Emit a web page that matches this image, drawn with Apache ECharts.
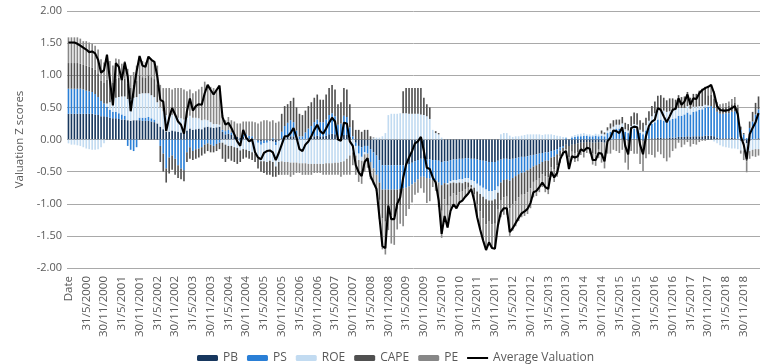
<!DOCTYPE html>
<html>
<head>
<meta charset="utf-8">
<script src="https://cdn.jsdelivr.net/npm/echarts@6/dist/echarts.min.js"></script>
<style>html,body{margin:0;padding:0;background:#fff}#c{width:780px;height:364px}</style>
</head>
<body>
<div id="c"></div>
<script>
// Monthly values, index 0 = Nov 1999 (labelled "Date") ... index 233 = Apr 2019
const PB = [
0.40,0.40,0.40,0.40,0.40,0.40,0.40,0.40,0.40,0.39,0.38,0.36,
0.36,0.35,0.34,0.33,0.33,0.32,0.31,0.31,0.30,0.29,0.30,0.30,
0.30,0.29,0.29,0.29,0.28,0.27,0.25,0.20,0.16,0.12,0.12,0.14,
0.13,0.12,0.11,0.10,0.14,0.17,0.15,0.16,0.17,0.16,0.19,0.20,
0.19,0.18,0.19,0.20,0.12,0.08,0.09,0.07,0.05,0.04,0.03,0.04,
0.03,0.02,0.02,0.01,-0.02,-0.03,-0.02,-0.02,-0.02,-0.03,-0.04,-0.02,
0.02,0.03,0.04,0.05,0.05,0.02,0.00,0.00,0.01,0.02,0.03,0.05,
0.06,0.05,0.05,0.06,0.08,0.09,0.08,0.05,0.05,0.07,0.07,0.04,
0.00,-0.05,-0.10,-0.12,-0.10,-0.10,-0.15,-0.20,-0.25,-0.32,-0.40,-0.40,
-0.40,-0.40,-0.40,-0.40,-0.40,-0.40,-0.39,-0.38,-0.36,-0.34,-0.32,-0.30,
-0.30,-0.31,-0.31,-0.32,-0.32,-0.33,-0.35,-0.34,-0.34,-0.32,-0.31,-0.31,
-0.30,-0.30,-0.29,-0.29,-0.30,-0.30,-0.31,-0.32,-0.33,-0.34,-0.35,-0.35,
-0.35,-0.33,-0.31,-0.30,-0.30,-0.31,-0.30,-0.29,-0.28,-0.27,-0.27,-0.26,
-0.25,-0.24,-0.23,-0.22,-0.21,-0.20,-0.20,-0.18,-0.17,-0.15,-0.12,-0.10,
-0.08,-0.10,-0.08,-0.07,-0.06,-0.05,-0.05,-0.04,-0.04,-0.05,-0.05,-0.04,
-0.04,-0.05,-0.02,-0.01,0.00,0.01,0.01,0.02,-0.01,-0.02,0.01,0.01,
0.01,-0.01,-0.02,0.00,0.01,0.02,0.02,0.03,0.03,0.02,0.02,0.03,
0.03,0.03,0.04,0.04,0.04,0.05,0.04,0.05,0.05,0.05,0.05,0.06,
0.06,0.06,0.05,0.03,0.02,0.02,0.02,0.02,0.03,0.02,0.01,-0.02,
-0.02,-0.06,-0.02,0.00,0.01,0.02
];
const PS = [
0.39,0.39,0.39,0.39,0.39,0.38,0.36,0.35,0.34,0.32,0.28,0.24,
0.20,0.16,0.12,0.10,0.10,0.09,0.08,0.06,-0.10,-0.16,-0.18,-0.12,
0.04,0.05,0.05,0.06,0.05,0.04,0.00,-0.10,-0.22,-0.45,-0.28,-0.25,
-0.30,-0.40,-0.45,-0.48,-0.20,-0.12,-0.18,-0.15,-0.14,-0.12,-0.08,-0.06,
-0.08,-0.10,-0.07,-0.05,0.03,0.05,0.06,0.04,0.02,0.00,-0.03,0.03,
0.05,0.04,0.03,0.00,-0.03,-0.05,-0.04,-0.03,0.00,0.02,-0.05,0.00,
0.10,0.18,0.22,0.25,0.22,0.12,0.05,0.05,0.10,0.15,0.18,0.22,
0.25,0.22,0.22,0.25,0.30,0.32,0.28,0.18,0.20,0.30,0.28,0.15,
0.05,-0.05,-0.12,-0.15,-0.10,-0.12,-0.20,-0.25,-0.30,-0.35,-0.38,-0.38,
-0.38,-0.38,-0.38,-0.38,-0.37,-0.36,-0.36,-0.35,-0.34,-0.33,-0.30,-0.28,
-0.28,-0.29,-0.30,-0.31,-0.32,-0.34,-0.36,-0.34,-0.34,-0.33,-0.32,-0.32,
-0.32,-0.32,-0.31,-0.31,-0.33,-0.35,-0.38,-0.40,-0.42,-0.44,-0.45,-0.45,
-0.44,-0.40,-0.36,-0.33,-0.32,-0.33,-0.30,-0.28,-0.26,-0.25,-0.24,-0.22,
-0.20,-0.18,-0.17,-0.16,-0.14,-0.13,-0.13,-0.10,-0.10,-0.08,-0.05,-0.03,
0.02,0.00,0.03,0.04,0.05,0.05,0.06,0.06,0.05,0.05,0.06,0.05,
0.06,0.05,0.10,0.12,0.15,0.16,0.16,0.18,0.12,0.10,0.14,0.16,
0.15,0.10,0.08,0.14,0.18,0.22,0.25,0.28,0.28,0.27,0.26,0.27,
0.29,0.30,0.33,0.33,0.35,0.37,0.35,0.38,0.39,0.41,0.42,0.44,
0.45,0.46,0.44,0.40,0.38,0.38,0.39,0.39,0.40,0.42,0.38,0.15,
0.08,0.02,0.18,0.28,0.38,0.45
];
const ROE = [
-0.06,-0.08,-0.08,-0.09,-0.10,-0.12,-0.14,-0.15,-0.16,-0.16,-0.15,-0.12,
-0.06,0.05,0.12,0.18,0.22,0.25,0.28,0.30,0.33,0.34,0.35,0.36,
0.37,0.38,0.38,0.37,0.36,0.35,0.33,0.30,0.28,0.26,0.25,0.24,
0.23,0.22,0.22,0.21,0.20,0.20,0.19,0.18,0.16,0.14,0.12,0.10,
0.08,0.06,0.05,0.03,-0.05,-0.08,-0.10,-0.10,-0.12,-0.13,-0.14,-0.15,
-0.16,-0.18,-0.20,-0.22,-0.24,-0.26,-0.28,-0.30,-0.31,-0.32,-0.33,-0.33,
-0.34,-0.35,-0.35,-0.36,-0.36,-0.36,-0.37,-0.37,-0.37,-0.38,-0.38,-0.38,
-0.38,-0.38,-0.38,-0.37,-0.37,-0.37,-0.36,-0.36,-0.35,-0.34,-0.30,-0.25,
-0.20,-0.15,-0.10,-0.06,-0.03,0.00,0.00,0.02,0.03,0.03,0.05,0.10,
0.38,0.40,0.40,0.40,0.41,0.41,0.41,0.40,0.40,0.40,0.40,0.39,
0.38,0.36,0.32,0.15,0.10,0.08,0.03,0.00,-0.02,-0.03,-0.04,-0.05,
-0.05,-0.06,-0.06,-0.07,-0.08,-0.10,-0.12,-0.13,-0.14,-0.15,-0.15,-0.15,
-0.14,-0.10,0.08,0.10,0.10,0.06,0.04,0.05,0.05,0.06,0.07,0.08,
0.08,0.08,0.08,0.08,0.07,0.08,0.08,0.08,0.07,0.06,0.05,0.04,
0.02,0.00,0.02,0.03,0.03,0.04,0.04,0.02,0.03,0.02,0.03,0.03,
0.03,0.03,0.04,0.05,0.05,0.06,0.06,0.05,0.04,0.04,0.06,0.07,
0.07,0.05,0.04,0.08,0.10,0.12,0.14,0.15,0.16,0.16,0.15,0.14,
0.14,0.13,0.12,0.12,0.10,0.10,0.09,0.08,0.07,0.06,0.05,0.04,
0.02,0.00,-0.03,-0.06,-0.09,-0.11,-0.12,-0.13,-0.14,-0.14,-0.15,-0.15,
-0.15,-0.16,-0.16,-0.16,-0.15,-0.15
];
const CAPE = [
0.40,0.40,0.40,0.40,0.39,0.38,0.39,0.38,0.38,0.38,0.37,0.32,
0.32,0.37,0.32,0.27,0.30,0.30,0.25,0.28,0.24,0.18,0.20,0.25,
0.29,0.25,0.24,0.28,0.28,0.28,0.28,-0.25,-0.28,-0.22,-0.25,-0.22,
-0.25,-0.20,-0.17,-0.17,-0.15,-0.18,-0.14,-0.15,-0.14,-0.13,-0.14,-0.12,
-0.12,-0.10,-0.11,-0.10,-0.25,-0.27,-0.20,-0.23,-0.23,-0.25,-0.18,-0.15,
-0.12,-0.12,-0.12,-0.13,-0.16,-0.16,-0.18,-0.20,-0.22,-0.23,-0.16,-0.20,
0.28,0.31,0.29,0.30,0.38,0.36,0.35,0.33,0.34,0.35,0.37,0.38,
0.39,0.35,0.35,0.39,0.42,0.44,0.42,0.32,0.33,0.43,0.43,0.36,
0.25,0.15,0.15,0.12,0.15,0.15,0.05,0.01,0.00,-0.27,-0.45,-0.50,
-0.30,-0.40,-0.42,-0.30,-0.25,0.34,0.39,0.40,0.40,0.40,0.40,0.41,
0.27,0.19,0.18,0.00,0.03,0.02,-0.40,-0.25,-0.33,-0.21,-0.17,-0.19,
-0.15,-0.13,-0.11,-0.08,-0.03,-0.10,-0.20,-0.27,-0.34,-0.39,-0.32,-0.37,
-0.38,-0.25,-0.27,-0.27,-0.27,-0.43,-0.41,-0.39,-0.36,-0.34,-0.34,-0.34,
-0.31,-0.24,-0.24,-0.22,-0.19,-0.24,-0.26,-0.15,-0.19,-0.17,-0.09,-0.06,
-0.07,-0.18,-0.11,-0.14,-0.14,-0.09,-0.11,-0.08,-0.09,-0.17,-0.18,-0.12,
0.05,0.03,0.05,0.08,0.10,0.08,0.08,0.10,0.10,0.10,0.15,0.18,
0.18,0.15,0.14,0.12,0.15,0.16,0.18,0.22,0.22,0.20,0.18,0.20,
0.18,0.16,0.20,0.17,0.18,0.22,0.17,0.20,0.20,0.24,0.27,0.28,
0.16,0.18,0.15,0.10,0.09,0.10,0.10,0.11,0.12,0.13,0.10,0.05,
0.02,-0.12,0.10,0.15,0.18,0.20
];
const PE = [
0.40,0.40,0.40,0.40,0.39,0.37,0.38,0.38,0.37,0.37,0.37,0.33,
0.32,0.37,0.32,0.27,0.31,0.29,0.26,0.27,0.23,0.19,0.20,0.24,
0.28,0.25,0.24,0.27,0.28,0.28,0.29,0.35,0.36,0.42,0.43,0.40,
0.44,0.46,0.47,0.47,0.41,0.41,0.38,0.41,0.45,0.52,0.59,0.55,
0.55,0.56,0.54,0.57,0.23,0.17,0.20,0.19,0.21,0.21,0.22,0.21,
0.20,0.22,0.23,0.26,0.25,0.28,0.30,0.30,0.28,0.28,0.26,0.28,
-0.21,-0.20,-0.20,-0.22,-0.19,-0.16,-0.15,-0.18,-0.18,-0.17,-0.17,-0.14,
-0.14,-0.14,-0.17,-0.18,-0.18,-0.18,-0.19,-0.19,-0.23,-0.21,-0.25,-0.30,
-0.20,-0.30,-0.34,-0.36,-0.27,-0.22,-0.27,-0.25,-0.25,-0.30,-0.48,-0.51,
-0.33,-0.44,-0.44,-0.32,-0.29,-0.59,-0.44,-0.35,-0.28,-0.19,-0.21,-0.18,
-0.25,-0.39,-0.35,-0.11,-0.16,-0.38,-0.42,-0.26,-0.34,-0.22,-0.17,-0.20,
-0.16,-0.14,-0.12,-0.09,-0.03,-0.10,-0.20,-0.28,-0.34,-0.40,-0.33,-0.37,
-0.39,-0.26,-0.27,-0.27,-0.28,-0.43,-0.41,-0.39,-0.37,-0.35,-0.34,-0.34,
-0.31,-0.24,-0.24,-0.22,-0.20,-0.25,-0.26,-0.15,-0.20,-0.18,-0.10,-0.06,
-0.07,-0.18,-0.12,-0.14,-0.14,-0.10,-0.12,-0.09,-0.09,-0.17,-0.18,-0.13,
-0.32,-0.40,-0.20,-0.21,-0.16,-0.18,-0.21,-0.16,-0.35,-0.45,-0.18,-0.22,
-0.22,-0.37,-0.47,-0.29,-0.23,-0.24,-0.28,-0.19,-0.23,-0.29,-0.34,-0.28,
-0.18,-0.14,-0.05,-0.12,-0.08,-0.04,-0.11,-0.07,-0.08,-0.04,-0.02,-0.02,
0.13,0.15,0.11,0.05,0.06,0.06,0.06,0.07,0.08,0.09,0.05,-0.05,
-0.15,-0.17,-0.12,-0.10,-0.12,-0.10
];
const AVG = [
1.51,1.51,1.51,1.49,1.46,1.43,1.40,1.36,1.37,1.34,1.24,1.04,
1.08,1.32,0.92,0.53,1.19,1.13,0.92,1.20,0.98,0.44,0.77,1.06,
1.30,1.15,1.13,1.29,1.24,1.21,0.98,0.62,0.59,0.13,0.34,0.49,
0.39,0.28,0.23,0.09,0.44,0.64,0.45,0.52,0.55,0.54,0.72,0.85,
0.77,0.70,0.77,0.84,0.35,0.23,0.26,0.18,0.08,-0.03,-0.10,0.15,
0.03,-0.03,0.00,-0.20,-0.28,-0.31,-0.21,-0.18,-0.17,-0.20,-0.32,-0.21,
-0.08,0.05,0.05,0.10,0.18,0.03,-0.15,-0.18,-0.08,-0.03,0.05,0.15,
0.23,0.13,0.09,0.17,0.26,0.34,0.28,0.00,-0.02,0.26,0.25,-0.03,
-0.10,-0.40,-0.51,-0.57,-0.35,-0.29,-0.57,-0.67,-0.77,-1.21,-1.66,-1.69,
-1.03,-1.24,-1.24,-1.00,-0.90,-0.60,-0.39,-0.28,-0.18,-0.06,-0.03,0.04,
-0.18,-0.44,-0.46,-0.59,-0.67,-0.95,-1.47,-1.19,-1.37,-1.11,-1.01,-1.07,
-0.98,-0.95,-0.89,-0.84,-0.77,-0.95,-1.21,-1.40,-1.57,-1.72,-1.60,-1.69,
-1.70,-1.34,-1.13,-1.07,-1.07,-1.44,-1.38,-1.30,-1.22,-1.15,-1.12,-1.08,
-0.99,-0.82,-0.80,-0.74,-0.67,-0.74,-0.77,-0.50,-0.59,-0.52,-0.31,-0.21,
-0.18,-0.46,-0.26,-0.28,-0.26,-0.15,-0.18,-0.13,-0.14,-0.32,-0.32,-0.21,
-0.22,-0.34,-0.03,0.03,0.14,0.13,0.10,0.19,-0.10,-0.23,0.18,0.20,
0.19,-0.08,-0.23,0.05,0.21,0.28,0.31,0.49,0.46,0.36,0.27,0.36,
0.46,0.48,0.64,0.54,0.59,0.70,0.54,0.64,0.63,0.72,0.77,0.80,
0.82,0.85,0.72,0.52,0.46,0.45,0.45,0.46,0.49,0.52,0.39,0.05,
-0.08,-0.31,0.08,0.18,0.27,0.41
];
const seriesNames = ['PB','PS','ROE','CAPE','PE'];
const lineName = 'Average Valuation';
const yTicks = [-2,-1.5,-1,-0.5,0,0.5,1,1.5,2];

// Category labels: first is "Date", then month-end dates from Dec 1999
const categories = ['Date'];
for (let k = 1; k < PB.length; k++) {
  const t = 10 + k;
  const year = 1999 + Math.floor(t / 12);
  const mon = t % 12;
  const day = new Date(year, mon + 1, 0).getDate();
  categories.push(day + '/' + (mon + 1) + '/' + year);
}

const colors = ['#17375e', '#2a7fd6', '#c2dbf1', '#505050', '#878787'];
const values = [PB, PS, ROE, CAPE, PE];
const FONT = 'Open Sans';
const TXT = '#595959';

const chart = echarts.init(document.getElementById('c'), null, {renderer: 'canvas'});
const series = seriesNames.map((n, k) => ({
  name: n, type: 'bar', stack: 'v', stackStrategy: 'samesign',
  data: values[k], barWidth: '55%', itemStyle: {color: colors[k]},
  emphasis: {disabled: true}
}));
series.push({
  name: lineName, type: 'line', data: AVG, symbol: 'none', showSymbol: false, z: 10,
  lineStyle: {color: '#000', width: 2.1}, itemStyle: {color: '#000'},
  emphasis: {disabled: true}
});

const legendData = seriesNames.map(n => ({name: n}));
legendData.push({name: lineName, icon: 'path://M0,0 L21,0 L21,2 L0,2 Z', itemStyle: {color: '#000'}});

chart.setOption({
  animation: false,
  grid: {left: 67, right: 20, top: 11, bottom: 96, containLabel: false},
  legend: {
    data: legendData,
    left: 192, top: 347, itemWidth: 21, itemHeight: 6, itemGap: 9,
    textStyle: {fontFamily: FONT, fontSize: 12, color: TXT}
  },
  xAxis: {
    type: 'category', data: categories,
    axisLine: {show: false, onZero: false},
    axisTick: {show: false},
    axisLabel: {interval: 5, rotate: 90, fontFamily: FONT, fontSize: 11.5, color: TXT, margin: 8}
  },
  yAxis: {
    type: 'value', min: yTicks[0], max: yTicks[yTicks.length - 1], interval: 0.5,
    name: 'Valuation Z scores', nameLocation: 'middle', nameRotate: 90, nameGap: 33,
    nameTextStyle: {fontFamily: FONT, fontSize: 11.5, color: TXT},
    axisLine: {show: false}, axisTick: {show: false},
    axisLabel: {formatter: v => v.toFixed(2), fontFamily: FONT, fontSize: 11, color: TXT, margin: 5},
    splitLine: {lineStyle: {color: '#a9a9a9', width: 1}}
  },
  series: series
});
</script>
</body>
</html>
